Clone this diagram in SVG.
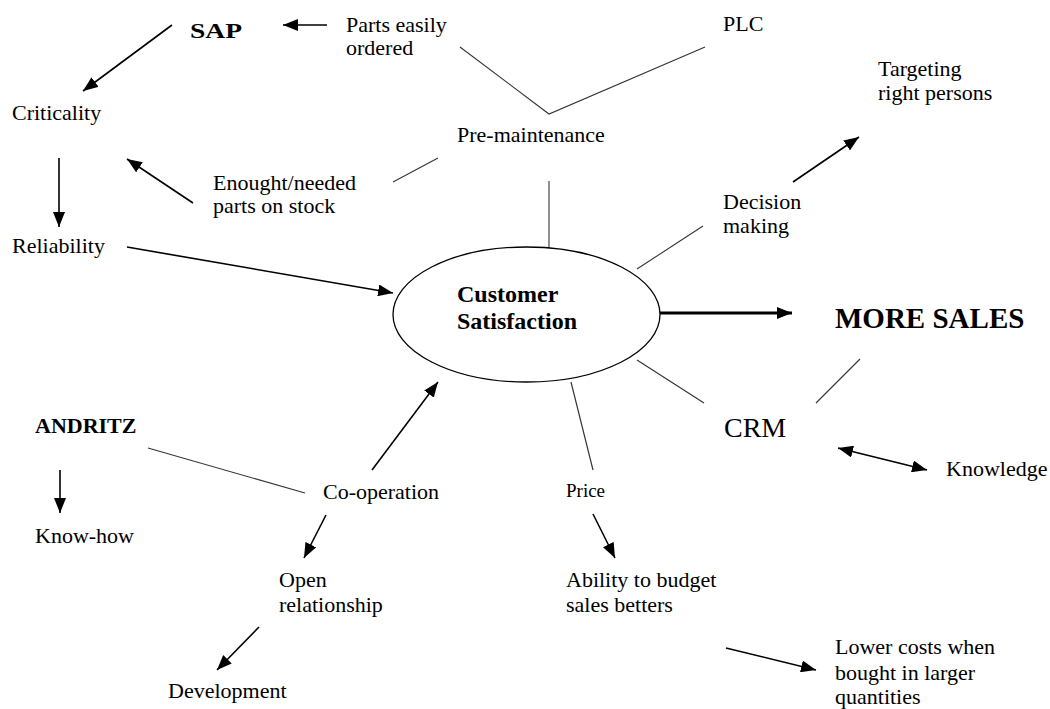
<svg xmlns="http://www.w3.org/2000/svg" width="1050" height="709" viewBox="0 0 1050 709">
<defs>
<marker id="ah" markerUnits="userSpaceOnUse" markerWidth="16" markerHeight="12" refX="15" refY="6" orient="auto-start-reverse" viewBox="0 0 16 12">
<path d="M0,0 L15,6 L0,12 z" fill="#000"/>
</marker>
<style>
.b{font-weight:bold}
.ln{stroke:#333;stroke-width:1.1;fill:none}
.ar{stroke:#000;stroke-width:1.6;fill:none;marker-end:url(#ah)}
</style>
</defs>
<rect width="1050" height="709" fill="#fff"/>
<g id="connectors">
<polyline class="ln" points="460,47 549,114 705,47"/>
<line class="ln" x1="549" y1="181" x2="549" y2="248"/>
<line class="ln" x1="393" y1="182" x2="438" y2="158"/>
<line class="ln" x1="637" y1="269" x2="703" y2="226"/>
<line class="ln" x1="571" y1="382" x2="593" y2="470"/>
<line class="ln" x1="637" y1="360" x2="704" y2="403"/>
<line class="ln" x1="860" y1="359" x2="816" y2="403"/>
<line class="ln" x1="148" y1="448" x2="305" y2="493"/>
<line class="ar" x1="172" y1="25" x2="83" y2="91"/>
<line class="ar" x1="327" y1="25" x2="283" y2="25"/>
<line class="ar" x1="59" y1="158" x2="59" y2="227"/>
<line class="ar" x1="193" y1="203" x2="127" y2="159"/>
<line class="ar" x1="127" y1="247" x2="393" y2="293"/>
<line class="ar" x1="793" y1="182" x2="859" y2="137"/>
<line class="ar" x1="660" y1="313" x2="792" y2="313" style="stroke-width:3"/>
<line class="ar" x1="372" y1="470" x2="438" y2="382"/>
<line class="ar" x1="838" y1="448" x2="927" y2="470" style="marker-start:url(#ah)"/>
<line class="ar" x1="593" y1="514" x2="615" y2="558"/>
<line class="ar" x1="726" y1="648" x2="816" y2="670"/>
<line class="ar" x1="60" y1="470" x2="60" y2="513"/>
<line class="ar" x1="326" y1="515" x2="304" y2="558"/>
<line class="ar" x1="259" y1="627" x2="217" y2="670"/>
</g>
<g font-family="Liberation Serif, Times New Roman, serif" font-size="22" fill="#000">
<g id="customer-satisfaction">
<ellipse cx="526.5" cy="314.5" rx="133.5" ry="67.5" fill="#fff" stroke="#000" stroke-width="1.3"/>
<text x="457" y="302" class="b" font-size="24">Customer</text>
<text x="457" y="329" class="b" font-size="24">Satisfaction</text>
</g>
<g id="sap"><text x="190" y="38" class="b" font-size="22" textLength="52" lengthAdjust="spacingAndGlyphs">SAP</text></g>
<g id="parts-easily-ordered"><text x="346" y="32">Parts easily</text><text x="346" y="55">ordered</text></g>
<g id="plc"><text x="723" y="31">PLC</text></g>
<g id="criticality"><text x="12" y="120">Criticality</text></g>
<g id="pre-maintenance"><text x="457" y="142">Pre-maintenance</text></g>
<g id="enought"><text x="213" y="190">Enought/needed</text><text x="213" y="213">parts on stock</text></g>
<g id="reliability"><text x="12" y="253">Reliability</text></g>
<g id="targeting"><text x="878" y="76">Targeting</text><text x="878" y="100">right persons</text></g>
<g id="decision-making"><text x="723" y="209">Decision</text><text x="723" y="233">making</text></g>
<g id="more-sales"><text x="835" y="328" class="b" font-size="29">MORE SALES</text></g>
<g id="crm"><text x="724" y="437" font-size="28">CRM</text></g>
<g id="knowledge"><text x="946" y="476">Knowledge</text></g>
<g id="price"><text x="566" y="497" font-size="19">Price</text></g>
<g id="ability"><text x="566" y="587">Ability to budget</text><text x="566" y="612">sales betters</text></g>
<g id="lower-costs"><text x="835" y="654">Lower costs when</text><text x="835" y="680">bought in larger</text><text x="835" y="704">quantities</text></g>
<g id="andritz"><text x="35" y="433" class="b">ANDRITZ</text></g>
<g id="know-how"><text x="35" y="543">Know-how</text></g>
<g id="co-operation"><text x="323" y="499">Co-operation</text></g>
<g id="open-relationship"><text x="279" y="587">Open</text><text x="279" y="612">relationship</text></g>
<g id="development"><text x="168" y="698">Development</text></g>
</g>
</svg>
